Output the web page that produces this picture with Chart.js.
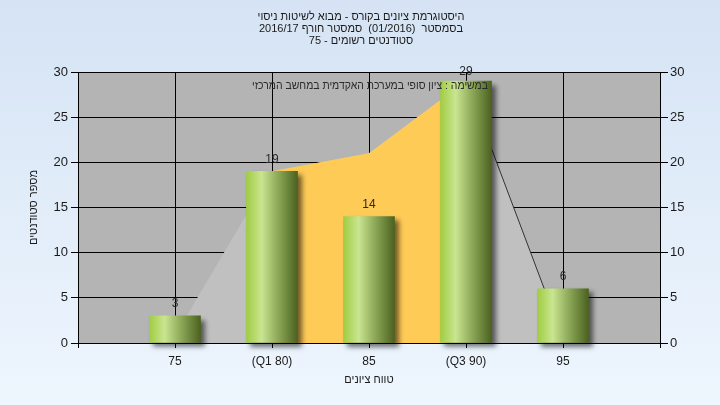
<!DOCTYPE html>
<html>
<head>
<meta charset="utf-8">
<script src="https://cdn.jsdelivr.net/npm/chart.js@4/dist/chart.umd.min.js"></script>
<style>
    html, body { margin: 0; padding: 0; }
    #chart { display: block; }
</style>
</head>
<body>
<canvas id="chart" width="720" height="405"></canvas>
<script>
// Chart data
const titleLines = [
    'היסטוגרמת ציונים בקורס - מבוא לשיטות ניסוי',
    'בסמסטר  (01/2016)  סמסטר חורף 2016/17',
    'סטודנטים רשומים - 75'
];
const categories = ['75', '(Q1 80)', '85', '(Q3 90)', '95'];
const students = [3, 19, 14, 29, 6];
const gradeRange = [0.8, 19, 21, 29, 0.5];
const quartileRange = [null, 19, 21, 29, null];
const areaNote = 'במשימה : ציון סופי במערכת האקדמית במחשב המרכזי';
const xTitle = 'טווח ציונים';
const yTitle = 'מספר סטודנטים';

const FONT = "'Liberation Sans', Arial, sans-serif";

// the axis runs one empty slot past each end
function pad(arr) {
    return [null].concat(arr, [null]);
}
const labels = [''].concat(categories, ['']);

function barGradient(context) {
    const chart = context.chart;
    if (!chart.chartArea || context.dataIndex === undefined) return '#a4d048';
    const cx = chart.scales.x.getPixelForValue(context.dataIndex);
    const g = chart.ctx.createLinearGradient(cx - 26, 0, cx + 26, 0);
    g.addColorStop(0, '#9fcc40');
    g.addColorStop(0.3, '#c9e590');
    g.addColorStop(0.65, '#86a252');
    g.addColorStop(1, '#4a601f');
    return g;
}

const backdrop = {
    id: 'backdrop',
    beforeDraw(chart) {
        const ctx = chart.ctx;
        const a = chart.chartArea;
        ctx.save();
        const bg = ctx.createLinearGradient(0, 0, 0, chart.height);
        bg.addColorStop(0, '#d5e3f4');
        bg.addColorStop(1, '#eef6fe');
        ctx.fillStyle = bg;
        ctx.fillRect(0, 0, chart.width, chart.height);
        ctx.fillStyle = '#b4b4b4';
        ctx.fillRect(a.left, a.top, a.right - a.left, a.bottom - a.top);

        ctx.fillStyle = '#1a1a1a';
        ctx.font = '11px ' + FONT;
        ctx.textAlign = 'center';
        ctx.textBaseline = 'middle';
        titleLines.forEach(function (line, i) {
            ctx.fillText(line, 361, 17 + i * 12);
        });
        ctx.restore();
    },
    beforeDatasetDraw(chart, args) {
        if (args.index !== 0) return;
        const ctx = chart.ctx;
        ctx.save();
        ctx.shadowColor = 'rgba(0,0,0,0.55)';
        ctx.shadowOffsetX = 4;
        ctx.shadowOffsetY = 4;
        ctx.shadowBlur = 5;
    },
    afterDatasetDraw(chart, args) {
        if (args.index !== 0) return;
        chart.ctx.restore();
    },
    afterDatasetsDraw(chart) {
        const ctx = chart.ctx;
        const a = chart.chartArea;
        ctx.save();
        // bottom axis line over the areas
        ctx.strokeStyle = '#000';
        ctx.lineWidth = 1;
        ctx.beginPath();
        ctx.moveTo(a.left, a.bottom + 0.5);
        ctx.lineTo(a.right, a.bottom + 0.5);
        ctx.stroke();

        // values above bars
        ctx.fillStyle = '#2a2a2a';
        ctx.font = '12px ' + FONT;
        ctx.textAlign = 'center';
        ctx.textBaseline = 'middle';
        chart.getDatasetMeta(0).data.forEach(function (bar, i) {
            if (i === 0 || students[i - 1] === undefined) return;
            const y = Math.max(a.top, bar.y - 12);
            ctx.fillText(String(students[i - 1]), bar.x, y);
        });

        ctx.font = '11px ' + FONT;
        ctx.textAlign = 'right';
        ctx.fillText(areaNote, 488, 86, 236);
        ctx.restore();
    }
};

new Chart(document.getElementById('chart'), {
    data: {
        labels: labels,
        datasets: [
            {
                type: 'bar',
                data: pad(students),
                backgroundColor: barGradient,
                barThickness: 51,
                clip: false,
                order: 0
            },
            {
                type: 'line',
                data: pad(quartileRange),
                backgroundColor: '#ffcb57',
                borderWidth: 0,
                borderColor: 'rgba(0,0,0,0)',
                pointRadius: 0,
                fill: 'origin',
                tension: 0,
                order: 1
            },
            {
                type: 'line',
                data: pad(gradeRange),
                backgroundColor: '#c0c0c0',
                borderWidth: 1,
                borderColor: 'rgba(0,0,0,0)',
                segment: {
                    borderColor: function (ctx) {
                        return ctx.p0DataIndex === 4 ? '#333' : 'rgba(0,0,0,0)';
                    }
                },
                pointRadius: 0,
                fill: 'origin',
                tension: 0,
                order: 2
            }
        ]
    },
    options: {
        responsive: false,
        animation: false,
        layout: { padding: { top: 72, left: 0, right: 0, bottom: 0 } },
        plugins: {
            legend: { display: false },
            tooltip: { enabled: false },
            title: { display: false }
        },
        scales: {
            x: {
                type: 'category',
                offset: false,
                grid: { color: '#000', lineWidth: 1, tickLength: 5, offset: false },
                border: { color: '#000' },
                ticks: {
                    color: '#1a1a1a',
                    font: { family: FONT, size: 12 },
                    padding: 6,
                    autoSkip: false,
                    maxRotation: 0
                },
                title: {
                    display: true,
                    text: xTitle,
                    color: '#1a1a1a',
                    font: { family: FONT, size: 11 },
                    padding: { top: 4, bottom: 18 }
                },
                afterFit: function (s) { s.height = 62; }
            },
            y: {
                position: 'left',
                min: 0,
                max: 30,
                ticks: {
                    stepSize: 5,
                    color: '#1a1a1a',
                    font: { family: FONT, size: 13 },
                    padding: 3
                },
                grid: { color: '#000', lineWidth: 1, tickLength: 7 },
                border: { color: '#000' },
                title: {
                    display: true,
                    text: yTitle,
                    color: '#1a1a1a',
                    font: { family: FONT, size: 11 },
                    padding: { top: 27, bottom: 4 }
                },
                afterFit: function (s) { s.width = 78; }
            },
            y2: {
                position: 'right',
                min: 0,
                max: 30,
                ticks: {
                    stepSize: 5,
                    color: '#1a1a1a',
                    font: { family: FONT, size: 13 },
                    padding: 2
                },
                grid: { color: '#000', drawOnChartArea: false, tickLength: 8 },
                border: { color: '#000' },
                afterFit: function (s) { s.width = 60; }
            }
        }
    },
    plugins: [backdrop]
});
</script>
</body>
</html>
